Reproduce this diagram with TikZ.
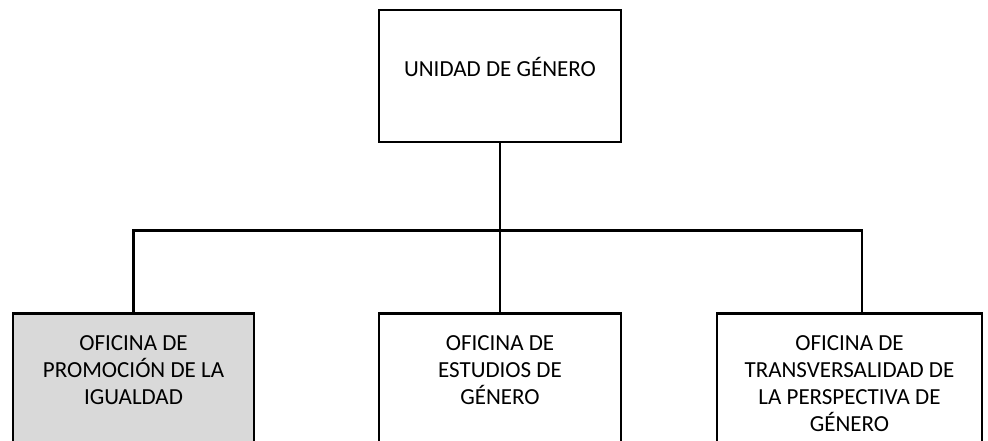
\documentclass[tikz,border=0pt]{standalone}
\usepackage{fontspec}
\setmainfont{Carlito}
\usepackage{tikz}
\usetikzlibrary{positioning}
\definecolor{boxgray}{RGB}{217,217,217}

\begin{document}
\begin{tikzpicture}[x=1pt,y=-1pt,
    unit/.style={draw,line width=2.6pt,minimum width=242pt,minimum height=132pt,inner sep=0pt},
    office/.style={draw,line width=2.6pt,anchor=north,minimum height=170pt,inner sep=0pt},
    boxtext/.style={align=center,inner sep=0pt,font=\fontsize{23}{27}\selectfont},
    link/.style={line width=2.6pt}]
    \path[use as bounding box,clip] (0,0) rectangle (988,441);
    \node[unit] (unidad) at (500,76) {};
    \node[office,fill=boxgray,minimum width=241pt] (promo) at (133.5,312) {};
    \node[office,minimum width=242pt] (estudios) at (500,312) {};
    \node[office,minimum width=265pt] (trans) at (849.5,312) {};
    \node[boxtext] (unidadtxt) at ([yshift=9pt]unidad.center) {UNIDAD DE GÉNERO};
    \node[boxtext,anchor=north,below=23pt of promo.north] (promotxt) {OFICINA DE\\PROMOCIÓN DE LA\\IGUALDAD};
    \node[boxtext,anchor=north,below=23pt of estudios.north] (estudiostxt) {OFICINA DE\\ESTUDIOS DE\\GÉNERO};
    \node[boxtext,anchor=north,below=23pt of trans.north] (transtxt) {OFICINA DE\\TRANSVERSALIDAD DE\\LA PERSPECTIVA DE\\GÉNERO};
    % connectors
    \draw[link] (unidad.south) -- ++(0,87) coordinate (bus);
    \draw[link] (promo.north) |- (bus) -| ([xshift=12.5pt]trans.north);
    \draw[link] (bus) -- (estudios.north);
\end{tikzpicture}
\end{document}
